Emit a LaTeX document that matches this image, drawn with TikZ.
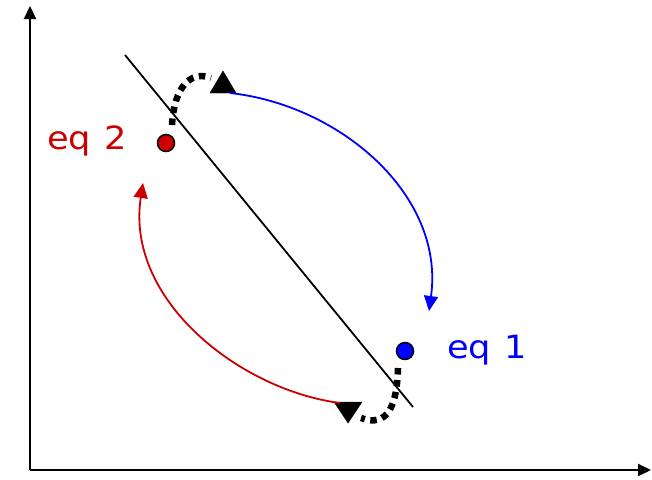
\documentclass[tikz,border=0pt]{standalone}
\usepackage{fontspec}
\usepackage{graphicx}
\setmainfont{DejaVu Sans}
\usetikzlibrary{arrows.meta}
\definecolor{eqred}{RGB}{204,0,0}
\definecolor{eqblue}{RGB}{0,0,255}
\tikzset{
  axis/.style={line width=2pt,-{Triangle[length=13pt,width=12pt]}},
  eqline/.style={line width=1.8pt},
  curve/.style={line width=1.8pt,-{Triangle[length=15pt,width=14pt]}},
  dotarc/.style={line width=6.5pt,dash pattern=on 6.5pt off 5.5pt},
  tri/.style={fill=black},
  eqdot/.style={circle,draw=black,line width=1.5pt,minimum size=17pt,inner sep=0pt},
  eqlabel/.style={font=\fontsize{32}{34}\selectfont,inner sep=0pt,anchor=base west}
}
\newcommand{\eqwide}[1]{\scalebox{1.1}[1]{#1}}
\begin{document}
\begin{tikzpicture}[x=1pt,y=-1pt]
\useasboundingbox (0,0) rectangle (652,479);
% axes
\coordinate (o) at (30,470);
\coordinate (ytop) at (30,6);
\coordinate (xend) at (651,470);
\draw[axis] (o) -- (ytop);
\draw[axis] (o) -- (xend);
% line
\coordinate (l1) at (125,55);
\coordinate (l2) at (413,407);
\draw[eqline] (l1) -- (l2);
% dots and labels
\node[eqdot,fill=eqred] (d2) at (166,143) {};
\node[eqdot,fill=eqblue] (d1) at (405,351) {};
\node[eqlabel,text=eqred] (lab2) at (47,149) {\eqwide{eq\kern12pt 2}};
\node[eqlabel,text=eqblue] (lab1) at (447,358) {\eqwide{eq\kern12pt 1}};
% top dotted arc with triangle
\coordinate (ta) at (172,125);
\coordinate (tb) at (211,78);
\draw[dotarc] (ta) .. controls (174,88) and (190,70) .. (tb);
\coordinate (t1) at (223,71);
\draw[tri] (t1) -- (236,93) -- (210,93) -- cycle;
% bottom dotted arc with triangle
\coordinate (ba) at (398,368);
\coordinate (bb) at (361,418);
\draw[dotarc] (ba) .. controls (397,405) and (388,428) .. (bb);
\coordinate (b1) at (348,423);
\draw[tri] (b1) -- (334,402) -- (362,402) -- cycle;
% blue curve
\coordinate (bs) at (230,93);
\coordinate (be) at (429,311);
\draw[eqblue,curve] (bs) .. controls (340,105) and (445,195) .. (be);
% red curve
\coordinate (rs) at (340,403);
\coordinate (re) at (143,183);
\draw[eqred,curve] (rs) .. controls (240,390) and (125,300) .. (re);
\end{tikzpicture}
\end{document}
